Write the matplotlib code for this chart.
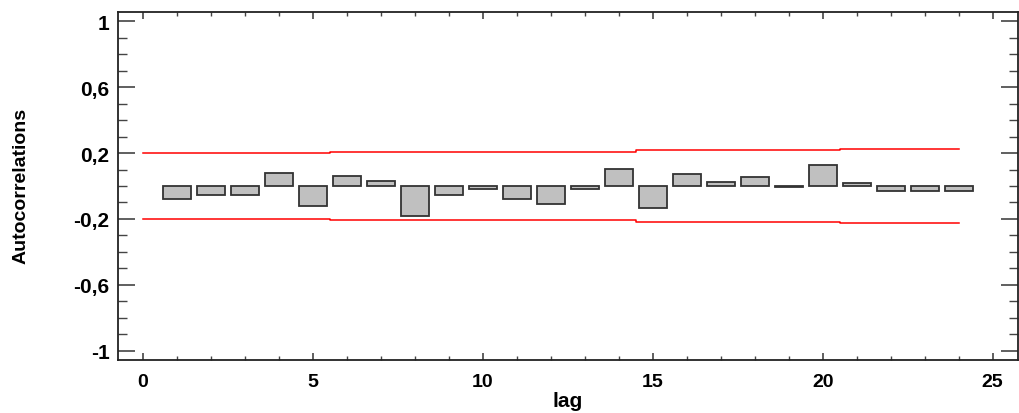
#!/usr/bin/env python3
# coding=utf-8

import matplotlib
matplotlib.use('Agg')
import matplotlib.pyplot as plt
from matplotlib.ticker import MultipleLocator

# estimated autocorrelations for lags 1..24
lags = list(range(1, 25))
acf = [-0.08, -0.055, -0.055, 0.077, -0.12, 0.06, 0.032, -0.18,
       -0.053, -0.02, -0.08, -0.11, -0.02, 0.105, -0.135, 0.071,
       0.027, 0.053, -0.005, 0.13, 0.02, -0.03, -0.03, -0.03]

# probability limits for lags 0..24
limit_lags = list(range(0, 25))
limits = [0.2] * 6 + [0.205] * 3 + [0.207] * 6 + [0.217] * 6 + [0.225] * 4

y_ticks = [1, 0.6, 0.2, -0.2, -0.6, -1]
y_tick_labels = ['1', '0,6', '0,2', '-0,2', '-0,6', '-1']
x_ticks = [0, 5, 10, 15, 20, 25]

plt.rcParams['font.family'] = ['Liberation Sans', 'DejaVu Sans']
plt.rcParams['font.weight'] = 'bold'

fig = plt.figure(figsize=(10.19, 4.14), dpi=100)
ax = fig.add_axes([0.1158, 0.128, 0.883, 0.8406])

ax.bar(lags, acf, width=0.82, color='#c0c0c0', edgecolor='#333333',
       linewidth=1.3, zorder=2)

ax.plot(limit_lags, limits, color='red', lw=1.1, drawstyle='steps-mid', zorder=3)
ax.plot(limit_lags, [-v for v in limits], color='red', lw=1.1,
        drawstyle='steps-mid', zorder=3)

ax.set_xlim(-0.73, 25.74)
ax.set_ylim(-1.055, 1.055)

ax.set_yticks(y_ticks)
ax.set_yticklabels(y_tick_labels)
ax.yaxis.set_minor_locator(MultipleLocator(0.1))
ax.set_xticks(x_ticks)
ax.xaxis.set_minor_locator(MultipleLocator(1))

ax.tick_params(axis='y', which='major', direction='in', length=12, width=1.2,
               color='#444444', left=True, right=True, labelsize=15, pad=6)
ax.tick_params(axis='y', which='minor', direction='in', length=6.5, width=1.0,
               color='#444444', left=True, right=True)
ax.tick_params(axis='x', which='major', direction='in', length=5, width=1.2,
               color='#444444', bottom=True, top=True, labelsize=14, pad=9)
ax.tick_params(axis='x', which='minor', direction='in', length=3, width=1.0,
               color='#444444', bottom=True, top=True)

for side in ax.spines.values():
    side.set_color('#222222')
    side.set_linewidth(1.3)

ax.set_xlabel('lag', fontsize=15, fontweight='bold')
ax.xaxis.set_label_coords(0.5, -0.09)
ax.set_ylabel('Autocorrelations', fontsize=14, fontweight='bold')
ax.yaxis.set_label_coords(-0.098, 0.503)

fig.savefig('out.png', dpi=100)
